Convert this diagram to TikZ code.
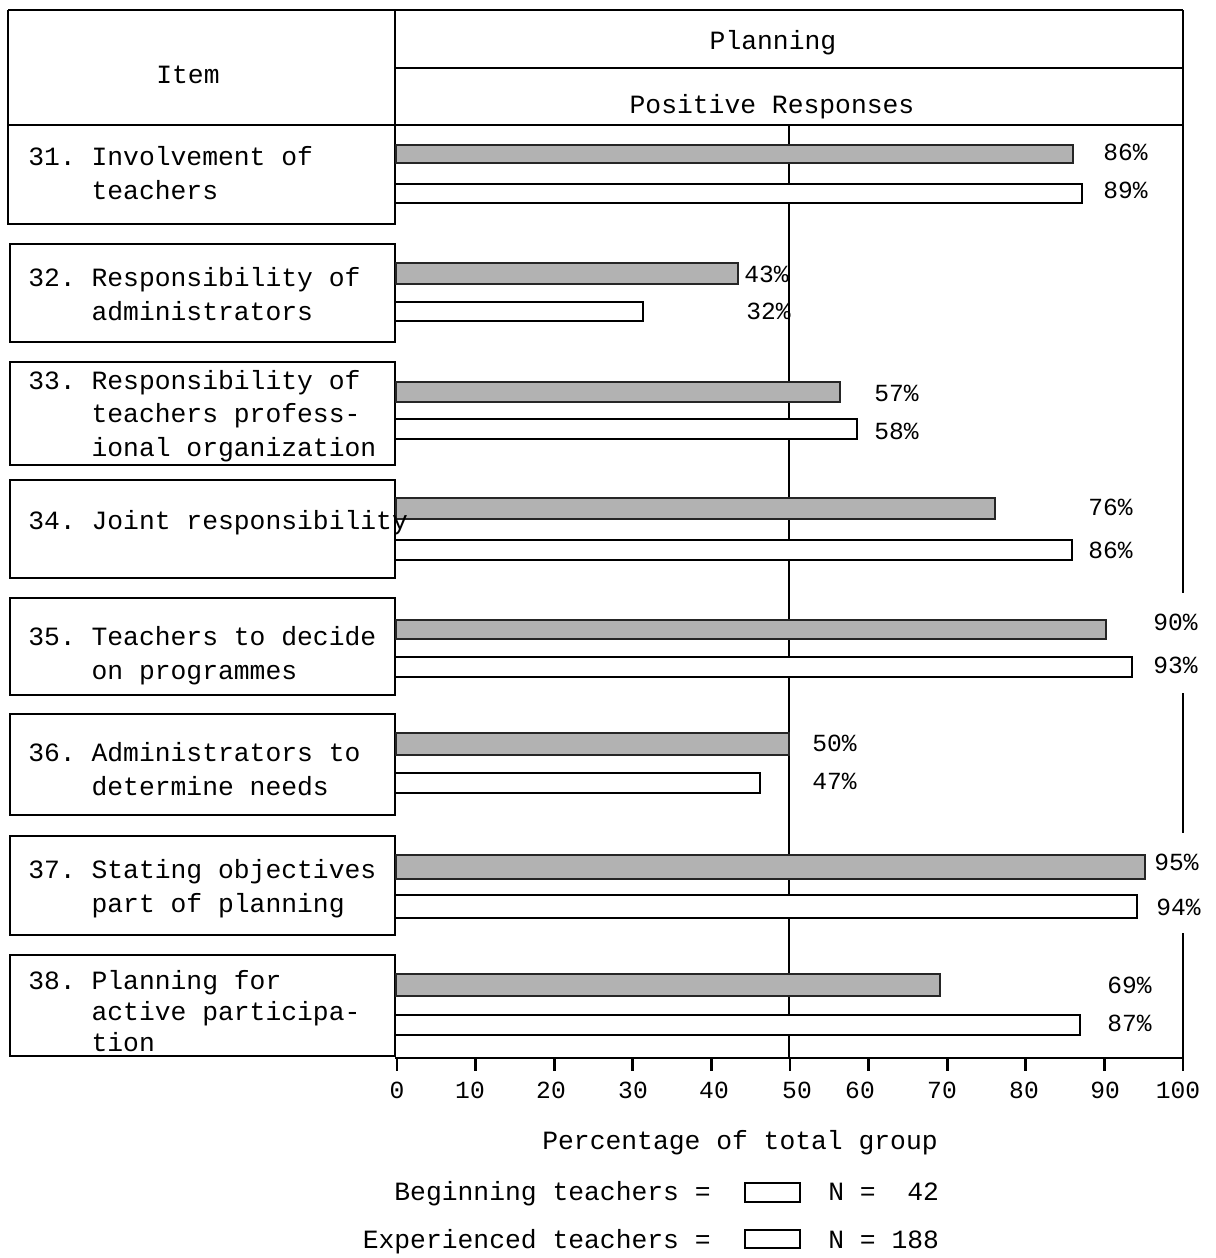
\documentclass[tikz,border=0pt]{standalone}
\usepackage{fontspec}
\setmonofont{Liberation Mono}
\usepackage{xcolor}

\begin{document}
\begin{tikzpicture}[x=0.02cm,y=-0.02cm,line width=1.5pt,
  itemtext/.style={anchor=base west,align=left,inner sep=0pt,font=\ttfamily\fontsize{15}{18.8}\selectfont},
  headtext/.style={anchor=base,inner sep=0pt,font=\ttfamily\fontsize{15}{18}\selectfont},
  pcttext/.style={anchor=base west,inner sep=0pt,font=\ttfamily\fontsize{14}{16}\selectfont},
  greybar/.style={draw=black!85,fill=black!30},
  whitebar/.style={draw=black,fill=white}]

\useasboundingbox (0,0) rectangle (1216,1258);

% Header of the table
\draw (8,10) -- (1183,10);
\draw (395,68) -- (1183,68);
\draw (8,125) -- (1183,125);
\draw (8,10) -- (8,224) -- (395,224) -- (395,10);
\node[headtext] (item) at (188,83) {Item};
\node[headtext] (planning) at (773,49) {Planning};
\node[headtext] (positive) at (772,113) {Positive Responses};

% Right border (broken by the labels)
\draw (1183,10) -- (1183,593);
\draw (1183,693) -- (1183,833);
\draw (1183,933) -- (1183,1058);

% Line at 50 percent
\draw (789,125) -- (789,1058);

% Item 31 (text anchored at its last line)
\draw[greybar] (396,145) rectangle (1073,163);
\draw[whitebar] (395,184) rectangle (1082,203);
\node[pcttext] (p31a) at (1102,160) {86\%};
\node[pcttext] (p31b) at (1102,198) {89\%};
\node[itemtext] (i31) at (27,199) {31. Involvement of\\\hphantom{31. }teachers};

% Item 32
\draw (10,244) rectangle (395,342);
\draw[greybar] (396,263) rectangle (738,284);
\draw[whitebar] (395,302) rectangle (643,321);
\node[pcttext] (p32a) at (743,282) {43\%};
\node[pcttext] (p32b) at (745,319) {32\%};
\node[itemtext] (i32) at (27,320) {32. Responsibility of\\\hphantom{32. }administrators};

% Item 33
\draw (10,362) rectangle (395,465);
\draw[greybar] (396,382) rectangle (840,402);
\draw[whitebar] (395,419) rectangle (857,439);
\node[pcttext] (p33a) at (873,401) {57\%};
\node[pcttext] (p33b) at (873,439) {58\%};
\node[itemtext] (i33) at (27,456) {33. Responsibility of\\\hphantom{33. }teachers profess-\\\hphantom{33. }ional organization};

% Item 34
\draw (10,480) rectangle (395,578);
\draw[greybar] (396,498) rectangle (995,519);
\draw[whitebar] (395,540) rectangle (1072,560);
\node[pcttext] (p34a) at (1087,515) {76\%};
\node[pcttext] (p34b) at (1087,558) {86\%};
\node[itemtext] (i34) at (27,529) {34. Joint responsibility};

% Item 35
\draw (10,598) rectangle (395,695);
\draw[greybar] (396,620) rectangle (1106,639);
\draw[whitebar] (395,657) rectangle (1132,677);
\node[pcttext] (p35a) at (1152,630) {90\%};
\node[pcttext] (p35b) at (1152,673) {93\%};
\node[itemtext] (i35) at (27,679) {35. Teachers to decide\\\hphantom{35. }on programmes};

% Item 36
\draw (10,714) rectangle (395,815);
\draw[greybar] (396,733) rectangle (789,755);
\draw[whitebar] (395,773) rectangle (760,793);
\node[pcttext] (p36a) at (811,751) {50\%};
\node[pcttext] (p36b) at (811,789) {47\%};
\node[itemtext] (i36) at (27,795) {36. Administrators to\\\hphantom{36. }determine needs};

% Item 37
\draw (10,836) rectangle (395,935);
\draw[greybar] (396,855) rectangle (1145,879);
\draw[whitebar] (395,895) rectangle (1137,918);
\node[pcttext] (p37a) at (1153,870) {95\%};
\node[pcttext] (p37b) at (1155,915) {94\%};
\node[itemtext] (i37) at (27,912) {37. Stating objectives\\\hphantom{37. }part of planning};

% Item 38
\draw (10,955) rectangle (395,1056);
\draw[greybar] (396,974) rectangle (940,996);
\draw[whitebar] (395,1015) rectangle (1080,1035);
\node[pcttext] (p38a) at (1106,993) {69\%};
\node[pcttext] (p38b) at (1106,1031) {87\%};
\node[itemtext,font=\ttfamily\fontsize{15}{17.6}\selectfont] (i38) at (27,1051) {38. Planning for\\\hphantom{38. }active participa-\\\hphantom{38. }tion};

% Scale at the bottom
\draw (395,1058) -- (1183,1058);
\foreach \p/\lx in {0/397,10/470,20/551,30/633,40/714,50/797,60/860,70/942,80/1024,90/1105,100/1178}
{
  \draw (397+7.86*\p,1058) -- (397+7.86*\p,1071);
  \node[pcttext,anchor=base] (t\p) at (\lx,1098) {\p};
}
\node[headtext] (axis) at (740,1149) {Percentage of total group};

% Legend
\node[headtext,anchor=base east] (begin) at (712,1200) {Beginning teachers =};
\draw (745,1183) rectangle (800,1202);
\node[headtext,anchor=base west] (nbegin) at (827,1200) {N =\hphantom{1} 42};
\node[headtext,anchor=base east] (exper) at (712,1248) {Experienced teachers =};
\draw (745,1230) rectangle (800,1248);
\node[headtext,anchor=base west] (nexper) at (827,1248) {N = 188};

\end{tikzpicture}
\end{document}
